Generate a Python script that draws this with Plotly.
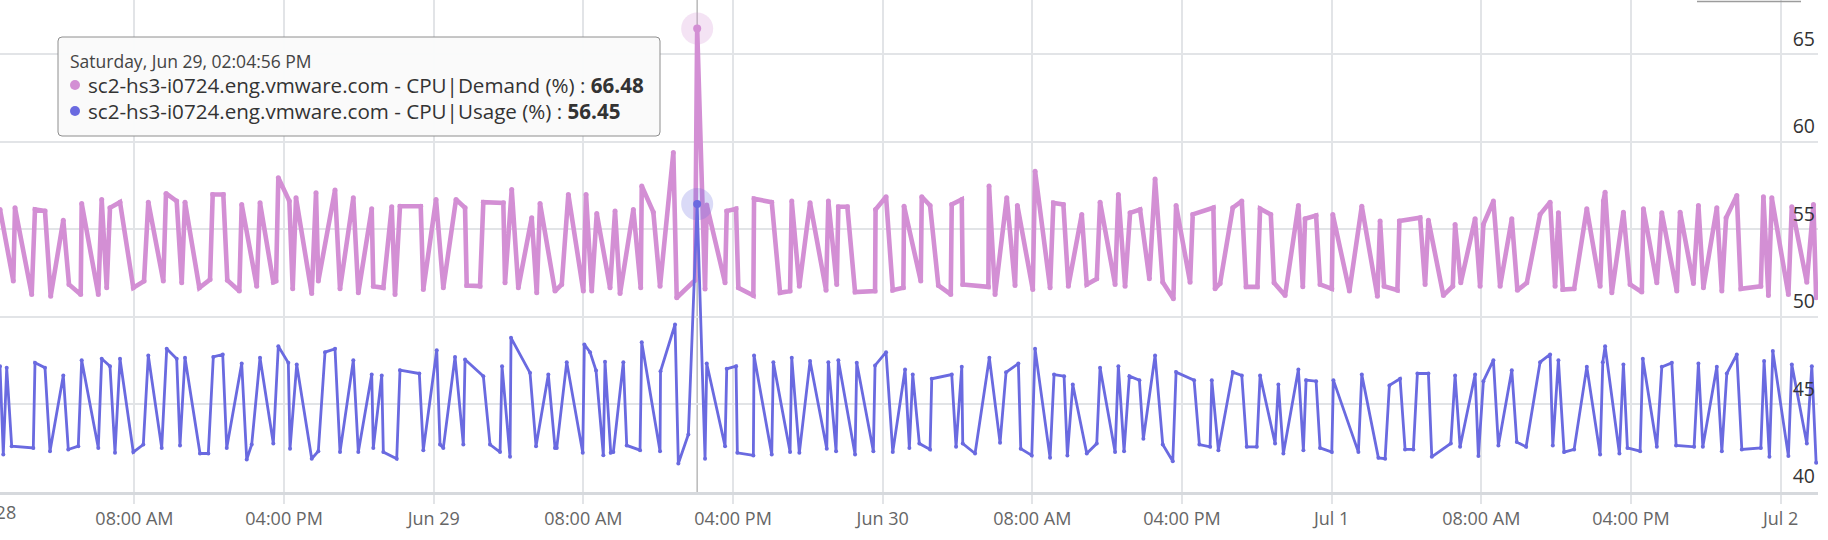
import pandas as pd
import plotly.graph_objects as go

BASE = pd.Timestamp("2024-06-28 00:00:00")

# CPU|Demand (%) : hours since Jun 28 00:00, values
demand_hours = [
    0.813, 1.524, 1.615, 2.507, 2.684, 3.218, 3.523, 4.197, 4.502, 5.127,
    5.180, 6.068, 6.250, 6.517, 6.693, 7.228, 7.939, 8.511, 8.741, 9.543,
    9.687, 10.259, 10.527, 10.703, 11.468, 12.040, 12.184, 12.751, 12.965, 13.606,
    13.734, 14.536, 14.713, 15.424, 15.568, 15.691, 16.279, 16.461, 16.637, 17.477,
    17.707, 17.830, 18.722, 18.990, 19.701, 19.968, 20.684, 20.770, 21.305, 21.754,
    21.930, 22.197, 23.304, 23.443, 24.122, 24.512, 25.191, 25.673, 25.763, 26.474,
    26.651, 27.720, 27.811, 28.169, 28.522, 29.238, 29.506, 29.682, 30.484, 30.842,
    31.195, 31.997, 32.141, 32.446, 32.714, 33.425, 33.692, 33.959, 34.670, 35.066,
    35.119, 35.739, 36.097, 36.809, 36.990, 37.969, 38.082, 38.503, 38.594, 39.573,
    39.663, 40.161, 40.284, 41.086, 41.123, 42.069, 42.513, 43.048, 43.139, 43.545,
    44.117, 44.972, 45.095, 45.544, 45.630, 46.111, 46.523, 47.592, 47.619, 48.180,
    48.538, 49.105, 49.142, 50.035, 50.088, 50.532, 50.976, 51.639, 51.692, 52.227,
    52.280, 53.649, 53.686, 54.007, 54.633, 55.076, 55.200, 56.023, 56.146, 56.948,
    57.124, 57.659, 57.926, 58.642, 58.910, 59.444, 59.621, 60.423, 60.599, 60.957,
    61.225, 61.759, 62.256, 62.561, 62.972, 63.540, 63.684, 64.432, 64.577, 65.678,
    65.769, 66.036, 66.715, 67.197, 67.426, 68.030, 68.175, 68.747, 68.923, 69.511,
    70.222, 70.458, 70.580, 71.169, 71.382, 72.008, 72.061, 72.949, 73.612, 74.446,
    74.590, 74.804, 75.515, 75.622, 76.729, 76.996, 77.173, 77.974, 78.477, 78.600,
    78.904, 79.669, 79.936, 80.113, 80.647, 81.006, 81.631, 81.930, 82.433, 83.144,
    83.679, 83.946, 84.123, 84.358, 84.962, 85.641, 86.352, 86.528, 86.619, 86.978,
    87.597, 87.956, 88.581, 88.667, 89.383, 89.650, 90.452, 90.629, 91.340, 91.607,
    91.875, 92.591, 92.859, 93.088, 93.660, 93.874, 94.943, 95.082, 95.350, 95.531,
    96.417, 96.600, 97.402, 97.756, 97.900,
]
demand_values = [
    56.14, 52.05, 56.24, 51.29, 56.14, 56.05, 51.19, 55.53, 51.86, 51.29,
    56.49, 51.29, 56.71, 51.67, 56.24, 56.56, 51.67, 52.05, 56.56, 52.05,
    57.06, 56.62, 51.95, 56.56, 51.67, 52.14, 57.00, 57.00, 52.10, 51.48,
    56.43, 51.76, 56.52, 51.99, 52.05, 57.95, 56.62, 51.61, 56.81, 51.34,
    57.10, 52.05, 57.25, 51.61, 56.81, 51.38, 56.18, 51.76, 51.67, 56.30,
    51.29, 56.33, 56.33, 51.57, 56.71, 51.67, 56.71, 56.24, 51.80, 51.76,
    56.56, 56.52, 51.95, 57.29, 51.67, 55.67, 51.38, 56.49, 51.48, 51.86,
    57.00, 51.48, 57.00, 51.48, 55.91, 51.67, 56.05, 51.34, 56.14, 51.67,
    57.48, 55.99, 51.76, 59.40, 51.10, 52.10, 66.48, 51.60, 56.40, 51.95,
    56.05, 56.18, 51.67, 51.23, 56.75, 56.56, 51.38, 51.48, 56.62, 51.76,
    56.52, 51.53, 56.62, 51.86, 56.30, 56.30, 51.42, 51.48, 56.14, 56.87,
    51.53, 51.67, 56.33, 52.05, 56.87, 56.37, 51.80, 51.29, 56.43, 56.71,
    51.86, 51.72, 57.48, 51.29, 56.81, 51.80, 56.37, 51.57, 58.33, 51.67,
    56.52, 56.43, 51.76, 55.86, 51.86, 52.18, 56.56, 51.86, 57.00, 51.76,
    55.95, 56.14, 52.18, 57.88, 51.99, 51.04, 56.37, 51.99, 55.86, 56.24,
    51.61, 51.91, 56.24, 56.62, 51.72, 51.72, 56.18, 55.86, 51.95, 51.23,
    56.37, 51.72, 55.61, 55.80, 51.86, 51.61, 55.86, 51.48, 56.33, 51.19,
    55.48, 51.76, 51.53, 55.48, 55.67, 51.86, 55.53, 51.23, 51.76, 55.29,
    51.95, 55.61, 51.76, 55.29, 56.62, 51.76, 55.61, 51.53, 51.95, 55.86,
    56.56, 51.76, 55.95, 51.57, 51.61, 56.18, 51.76, 56.62, 57.13, 51.38,
    55.99, 51.86, 51.42, 56.18, 51.95, 55.95, 51.48, 55.99, 51.91, 56.37,
    51.67, 56.24, 51.48, 55.67, 56.94, 51.61, 51.76, 56.87, 51.23, 56.81,
    51.29, 56.30, 51.99, 56.43, 51.10,
]

# CPU|Usage (%) : hours since Jun 28 00:00, values
usage_hours = [
    0.813, 0.989, 1.171, 1.438, 2.593, 2.684, 3.218, 3.486, 4.197, 4.464,
    4.999, 5.180, 6.068, 6.250, 6.693, 6.961, 7.228, 7.939, 8.474, 8.741,
    9.457, 9.725, 10.259, 10.436, 10.703, 11.505, 11.949, 12.216, 12.719, 12.933,
    13.734, 14.002, 14.269, 14.713, 15.424, 15.691, 16.226, 16.317, 16.675, 17.477,
    17.830, 18.188, 18.722, 18.990, 19.701, 19.968, 20.684, 20.770, 21.219, 21.305,
    22.021, 22.197, 23.229, 23.443, 24.160, 24.336, 24.512, 25.138, 25.582, 25.673,
    26.651, 27.009, 27.544, 27.651, 28.078, 28.132, 29.147, 29.468, 30.126, 30.484,
    30.575, 31.110, 31.965, 32.051, 32.355, 32.676, 33.066, 33.157, 33.462, 33.601,
    34.135, 34.317, 35.028, 35.119, 36.097, 36.124, 36.899, 37.076, 37.611, 38.082,
    38.503, 38.594, 39.573, 39.663, 40.161, 40.230, 41.086, 41.123, 42.069, 42.155,
    43.048, 43.139, 43.545, 44.117, 45.010, 45.095, 45.507, 45.630, 46.523, 46.613,
    47.501, 47.592, 48.180, 48.538, 49.196, 49.426, 49.607, 49.960, 50.532, 50.623,
    51.692, 51.922, 52.227, 52.280, 52.938, 53.702, 54.274, 54.595, 55.253, 55.381,
    55.969, 56.146, 56.948, 57.161, 57.696, 57.873, 58.162, 58.910, 59.444, 59.621,
    60.423, 60.599, 60.903, 61.187, 61.722, 61.936, 62.561, 62.972, 63.507, 63.684,
    64.646, 64.930, 65.502, 65.593, 65.946, 66.715, 67.197, 67.463, 67.998, 68.175,
    68.977, 69.153, 69.420, 70.222, 70.490, 70.634, 71.169, 71.382, 72.008, 72.094,
    73.430, 73.612, 74.499, 74.857, 75.087, 75.659, 75.926, 76.370, 76.584, 77.173,
    77.354, 78.370, 78.600, 78.867, 79.669, 79.846, 80.113, 80.647, 80.915, 81.631,
    81.898, 82.396, 83.144, 83.679, 83.823, 84.123, 84.427, 84.962, 85.641, 86.352,
    86.496, 86.619, 87.384, 87.597, 87.812, 88.490, 88.635, 89.383, 89.650, 90.185,
    90.415, 91.377, 91.607, 91.843, 92.591, 92.859, 93.125, 93.660, 93.928, 94.943,
    95.119, 95.403, 95.585, 96.417, 96.600, 97.402, 97.669, 97.900,
]
usage_values = [
    47.19, 42.14, 47.10, 42.62, 42.52, 47.38, 47.10, 42.33, 46.66, 42.43,
    42.62, 47.53, 42.52, 47.61, 47.19, 42.24, 47.61, 42.28, 42.71, 47.80,
    42.52, 48.18, 47.61, 42.66, 47.67, 42.20, 42.20, 47.72, 47.86, 42.52,
    47.34, 41.86, 42.71, 47.67, 42.77, 48.33, 47.38, 42.47, 47.29, 41.90,
    42.33, 47.99, 48.18, 42.28, 47.53, 42.28, 46.71, 42.52, 46.66, 42.28,
    41.90, 46.96, 46.77, 42.39, 48.10, 42.71, 42.52, 47.72, 42.71, 47.57,
    46.62, 42.71, 42.28, 47.19, 42.01, 48.81, 46.81, 42.62, 46.71, 42.52,
    42.52, 47.42, 42.24, 48.43, 47.99, 46.94, 42.10, 47.44, 42.24, 42.28,
    47.42, 42.66, 42.39, 48.56, 42.33, 46.90, 49.57, 41.63, 43.29, 56.45,
    41.90, 47.34, 42.62, 47.04, 47.19, 42.24, 42.09, 47.80, 42.14, 47.42,
    42.28, 47.67, 42.24, 47.48, 42.47, 47.42, 42.33, 47.53, 42.14, 47.38,
    42.33, 47.23, 47.99, 42.28, 47.00, 42.52, 46.71, 42.77, 42.43, 46.47,
    46.71, 42.58, 47.15, 42.77, 42.20, 47.67, 42.81, 46.84, 47.34, 42.47,
    42.09, 48.18, 41.95, 46.71, 46.62, 42.09, 46.14, 42.20, 42.77, 47.10,
    42.28, 47.19, 42.33, 46.62, 46.39, 43.04, 47.80, 42.71, 41.76, 46.85,
    46.39, 42.71, 42.58, 46.39, 42.39, 46.85, 46.66, 42.58, 42.58, 46.66,
    42.77, 46.14, 42.20, 47.00, 42.39, 46.39, 46.33, 42.52, 42.28, 46.39,
    42.28, 46.71, 41.95, 41.90, 46.09, 46.47, 42.43, 42.43, 46.77, 46.77,
    42.01, 42.77, 46.66, 42.58, 46.71, 42.05, 46.33, 47.53, 42.66, 46.96,
    42.85, 42.58, 47.42, 47.86, 42.66, 47.53, 42.28, 42.43, 47.15, 42.14,
    47.42, 48.33, 42.20, 47.29, 42.52, 42.33, 47.61, 42.58, 47.15, 47.38,
    42.66, 42.58, 47.34, 42.58, 47.15, 42.33, 46.77, 47.86, 42.43, 42.52,
    47.48, 42.01, 48.05, 42.05, 47.29, 42.77, 47.19, 41.67,
]

tick_hours = [8, 16, 24, 32, 40, 48, 56, 64, 72, 80, 88, 96]
tick_labels = ["08:00 AM", "04:00 PM", "Jun 29", "08:00 AM", "04:00 PM", "Jun 30",
               "08:00 AM", "04:00 PM", "Jul 1", "08:00 AM", "04:00 PM", "Jul 2"]
first_day_hours = 0
first_day_label = "Jun 28"
y_ticks = [40, 45, 50, 55, 60, 65]
x_range_hours = [0.813, 98.0]
y_range = [40, 68.11]

hover_time = pd.Timestamp("2024-06-29 14:04:56")
hover_title = "Saturday, Jun 29, 02:04:56 PM"
host = "sc2-hs3-i0724.eng.vmware.com"
demand_name = "CPU|Demand (%)"
usage_name = "CPU|Usage (%)"
hover_demand = 66.48
hover_usage = 56.45

PINK = "#d38fd4"
BLUE = "#6a6ae0"
GRID = "#e2e4e7"
FONT = "Open Sans"

W, H = 1828, 540
ML, MR, MT, MB = 0, 10, 0, 48
PW, PH = W - ML - MR, H - MT - MB


def to_time(hours):
    return [BASE + pd.Timedelta(hours=h) for h in hours]


def px(xp):
    return xp / PW


def py(yp):
    return 1 - yp / PH


fig = go.Figure()
fig.add_trace(go.Scatter(
    x=to_time(demand_hours), y=demand_values, mode="lines+markers",
    line=dict(color=PINK, width=4.6), marker=dict(color=PINK, size=5),
    hoverinfo="skip", showlegend=False))
fig.add_trace(go.Scatter(
    x=to_time(usage_hours), y=usage_values, mode="lines+markers",
    line=dict(color=BLUE, width=2.8), marker=dict(color=BLUE, size=4),
    hoverinfo="skip", showlegend=False))
# hover halos
fig.add_trace(go.Scatter(
    x=[hover_time, hover_time], y=[hover_demand, hover_usage], mode="markers",
    marker=dict(color=["rgba(211,143,212,0.25)", "rgba(106,106,224,0.25)"], size=32),
    hoverinfo="skip", showlegend=False))
fig.add_trace(go.Scatter(
    x=[hover_time, hover_time], y=[hover_demand, hover_usage], mode="markers",
    marker=dict(color=[PINK, BLUE], size=8),
    hoverinfo="skip", showlegend=False))

shapes = []
# hover vertical line
shapes.append(dict(type="line", xref="x", yref="paper", x0=hover_time, x1=hover_time,
                   y0=0, y1=1, line=dict(color="#b9b9b9", width=1.5), layer="between"))
# tooltip box (rounded)
bx0, bx1, byt, byb = px(58), px(660), py(37), py(136)
rx, ry = 4 / PW, 4 / PH
path = (f"M {bx0+rx},{byt} L {bx1-rx},{byt} Q {bx1},{byt} {bx1},{byt-ry} "
        f"L {bx1},{byb+ry} Q {bx1},{byb} {bx1-rx},{byb} L {bx0+rx},{byb} "
        f"Q {bx0},{byb} {bx0},{byb+ry} L {bx0},{byt-ry} Q {bx0},{byt} {bx0+rx},{byt} Z")
shapes.append(dict(type="path", xref="paper", yref="paper", path=path,
                   fillcolor="rgba(250,250,250,0.97)", line=dict(color="#8e8e8e", width=1),
                   layer="above"))
# legend dots
for ycen, col in [(85, PINK), (111, BLUE)]:
    shapes.append(dict(type="circle", xref="paper", yref="paper",
                       xsizemode="pixel", ysizemode="pixel",
                       xanchor=px(75), yanchor=py(ycen),
                       x0=-5, x1=5, y0=-5, y1=5,
                       fillcolor=col, line=dict(width=0), layer="above"))
# fragment of box border at top right
shapes.append(dict(type="line", xref="paper", yref="paper", x0=px(1697), x1=px(1801),
                   y0=py(1.5), y1=py(1.5), line=dict(color="#9c9c9c", width=1.5)))

annotations = [
    dict(xref="paper", yref="paper", x=px(68), y=py(61), xanchor="left", yanchor="middle",
         text=hover_title, showarrow=False, font=dict(family=FONT, size=17.5, color="#444")),
    dict(xref="paper", yref="paper", x=px(86), y=py(85), xanchor="left", yanchor="middle",
         text=f"{host} - {demand_name} : <b>{hover_demand:.2f}</b>", showarrow=False,
         font=dict(family=FONT, size=20.6, color="#333")),
    dict(xref="paper", yref="paper", x=px(86), y=py(111), xanchor="left", yanchor="middle",
         text=f"{host} - {usage_name} : <b>{hover_usage:.2f}</b>", showarrow=False,
         font=dict(family=FONT, size=20.6, color="#333")),
]
# partially visible first-day label (its tick lies just left of the visible range)
x_span = x_range_hours[1] - x_range_hours[0]
annotations.append(dict(xref="paper", yref="paper",
                        x=(first_day_hours - x_range_hours[0]) / x_span, y=0,
                        xanchor="center", yanchor="middle", yshift=-20, xshift=4,
                        text=first_day_label, showarrow=False,
                        font=dict(family=FONT, size=18, color="#666")))

fig.update_layout(
    width=W, height=H,
    margin=dict(l=ML, r=MR, t=MT, b=MB, pad=0),
    paper_bgcolor="white", plot_bgcolor="white",
    hovermode=False, showlegend=False,
    shapes=shapes, annotations=annotations,
    xaxis=dict(
        type="date",
        range=[BASE + pd.Timedelta(hours=x_range_hours[0]), BASE + pd.Timedelta(hours=x_range_hours[1])],
        tickmode="array", tickvals=to_time(tick_hours), ticktext=tick_labels,
        showgrid=True, gridcolor=GRID, gridwidth=1.5,
        ticks="outside", ticklen=9, tickcolor=GRID, tickwidth=1.5,
        showline=True, linecolor="#d6d9dd", linewidth=2.5,
        tickfont=dict(family=FONT, size=18, color="#666"),
        zeroline=False, fixedrange=True,
    ),
    yaxis=dict(
        range=y_range, tickmode="array", tickvals=y_ticks,
        side="right", ticklabelposition="inside top", ticklabelshift=-2,
        showgrid=True, gridcolor=GRID, gridwidth=1.5,
        ticks="", showline=False, zeroline=False,
        tickfont=dict(family=FONT, size=19.5, color="#333"),
        fixedrange=True,
    ),
)

fig.write_html("out.html", config={"displayModeBar": False})
